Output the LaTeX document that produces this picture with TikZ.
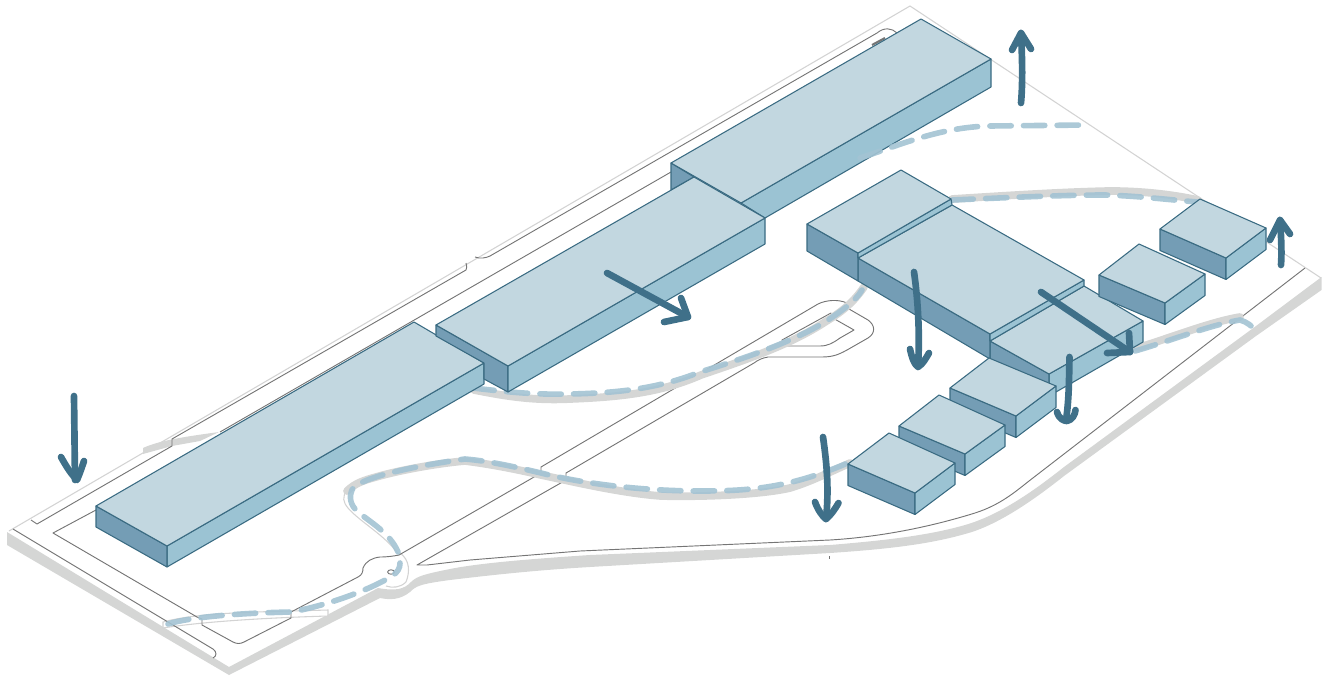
\documentclass[tikz,border=0pt]{standalone}
\definecolor{topc}{HTML}{C2D7E0}
\definecolor{rightc}{HTML}{9BC3D3}
\definecolor{leftc}{HTML}{749DB5}
\definecolor{edgec}{HTML}{3A6B82}
\definecolor{bandc}{HTML}{D5D6D5}
\definecolor{roadc}{HTML}{757575}
\definecolor{thinc}{HTML}{D3D3D3}
\definecolor{dashc}{HTML}{A3C3D3}
\definecolor{arrc}{HTML}{3F7089}
\tikzset{
 topf/.style={fill=topc,draw=edgec,line width=0.8pt,line join=round},
 rightf/.style={fill=rightc,draw=edgec,line width=0.8pt,line join=round},
 leftf/.style={fill=leftc,draw=edgec,line width=0.8pt,line join=round},
 road/.style={draw=roadc,line width=0.7pt,line join=round},
 thinl/.style={draw=thinc,line width=0.8pt},
 band/.style={draw=bandc,line width=5.8pt,line cap=round,line join=round},
 trail/.style={draw=dashc,line width=4.2pt,line cap=round,opacity=0.9,dash pattern=on 16pt off 9.2pt},
 arrowstroke/.style={draw=arrc,line width=5pt,line cap=round,line join=round},
}
\begin{document}
\begin{tikzpicture}[x=0.75pt,y=-0.75pt]
\useasboundingbox (0,0) rectangle (1337,681);
% site base
\fill[bandc] (7,532) -- (7,545) -- (229,675) -- (380,598) .. controls (390,600) and (400,600) .. (410,592) .. controls (416,586) and (420,584) .. (450,580) .. controls (500,574) and (540,570) .. (590,567) -- (830,553) .. controls (890,549) and (930,544) .. (965,534) .. controls (1000,525) and (1040,495) .. (1064,476) -- (1256,336) -- (1321.5,290) -- (1321.5,277) -- (1256,326) -- (1064,467) .. controls (1035,490) and (1000,515) .. (965,525) .. controls (930,535) and (890,540) .. (830,545) -- (590,555) .. controls (530,559) and (480,563) .. (450,569) .. controls (425,574) and (418,576) .. (412,581) .. controls (404,590) and (395,591) .. (378,588) -- (229,667) -- cycle;
\draw[thinl] (9,531) -- (910,6) -- (1321,278);
% gray band near top left
\fill[bandc] (143,448) .. controls (160,440) and (190,436) .. (219,432) -- (200,441) -- (172,446) -- (143,454) -- cycle;
% thin path outlines
\draw[thinl,fill=white] (163,628) .. controls (200,622) and (260,618) .. (328,616) -- (328,610) .. controls (260,612) and (200,612) .. (163,622) -- cycle;
\draw[thinl] (347,490) .. controls (342,497) and (343,502) .. (348,508) .. controls (360,522) and (385,535) .. (399,555);
% roundabout bump
\draw[thinl,fill=white] (400,553) .. controls (410,560) and (410,572) .. (406,582) .. controls (400,588) and (392,588) .. (386,586);
% road lines
\draw[road] (31,520) -- (37,524) -- (172,446) -- (172,439) -- (466,270) .. controls (467,268) and (467,266) .. (466,263);
\draw[road] (475,257) .. controls (480,259) and (486,258) .. (490,256) -- (877,33) .. controls (884,27) and (892,28) .. (897,33);
\draw[draw=roadc,line width=1.6pt] (872,45) -- (885,38);
\draw[road] (220,432) -- (671,172);
\draw[road] (13,529) -- (213,649) .. controls (217,652) and (217,656) .. (213,658);
\draw[road] (96,510) -- (53,533) -- (197,617);
\draw[road] (197,617) -- (202,619) -- (202,625) -- (233,642) .. controls (237,644) and (240,644) .. (244,642) -- (291,618) -- (291,612) -- (358,577) .. controls (362,575) and (363,572) .. (363,568) .. controls (366,561) and (372,558) .. (380,557) .. controls (388,557) and (394,556) .. (399,555);
\draw[road] (399,555) -- (541,473) -- (541,467) -- (818,304) .. controls (826,300) and (838,299) .. (847,303) -- (849,309) -- (868,320) .. controls (875,325) and (876,333) .. (868,338) -- (847,350) .. controls (838,355) and (832,357) .. (822,357) -- (768,357) .. controls (762,358) and (758,360) .. (754,363) -- (566,473) -- (566,480) -- (417,565) -- (427,565) -- (470,560) -- (580,551) -- (830,540) .. controls (880,537) and (930,527) .. (975,513) .. controls (1000,505) and (1015,492) .. (1029,481) -- (1305,268);
\draw[road] (782,340) -- (831,313) -- (831,317) -- (854,330) -- (840,338) .. controls (833,343) and (828,346) .. (820,346) -- (782,346) -- cycle;
\draw[road] (391,572) ellipse (3.4 and 2.2);
\draw[road] (829,556) -- (829,559);
% gray bands under trails
\draw[band] (347,491) .. controls (355,483) and (365,480) .. (376,477) .. controls (400,470) and (440,463) .. (465,461) .. controls (490,464) and (520,470) .. (541,475) .. controls (570,481) and (620,493) .. (661,496) .. controls (700,497) and (760,495) .. (790,488) .. controls (810,482) and (830,472) .. (850,463);
\draw[band] (474,390) .. controls (500,395) and (530,401) .. (570,399) .. controls (620,397) and (660,393) .. (701,375) .. controls (745,360) and (790,345) .. (825,322) .. controls (845,310) and (855,300) .. (864,287);
\draw[band] (952,199) .. controls (1000,196) and (1060,192) .. (1110,191) .. controls (1140,191) and (1170,194) .. (1198,200);
\draw[band] (1137,348) .. controls (1170,338) and (1210,322) .. (1240,317);
% trails
\draw[trail] (168,624) .. controls (190,617) and (240,613) .. (291,612) .. controls (325,606) and (370,590) .. (392,576) .. controls (398,572) and (400,568) .. (400,563);
\draw[trail,dash phase=4pt] (398,552) .. controls (390,533) and (370,522) .. (358,512) .. controls (350,505) and (349,497) .. (352,490) .. controls (356,480) and (400,468) .. (465,459) .. controls (490,461) and (520,468) .. (541,473) .. controls (580,483) and (640,491) .. (700,491) .. controls (750,491) and (790,488) .. (850,462);
\draw[trail] (473,388) .. controls (500,391) and (530,395) .. (570,394) .. controls (620,393) and (660,388) .. (700,372) .. controls (745,358) and (790,343) .. (825,322) .. controls (840,312) and (855,302) .. (862,290);
\draw[trail] (952,200) .. controls (1000,198) and (1060,195) .. (1105,195) .. controls (1140,196) and (1170,200) .. (1198,202);
\draw[trail] (1135,351) .. controls (1170,341) and (1210,325) .. (1240,320) .. controls (1247,322) and (1252,326) .. (1257,332);
% building 3 (top)
\path[leftf] (671,163) -- (694,177) -- (671,190) -- cycle;
\path[rightf] (741,203) -- (991,59) -- (991,87) -- (765,218) -- cycle;
\path[topf] (671,163) -- (921,19) -- (991,59) -- (741,203) -- cycle;
\draw[trail] (860,158) .. controls (900,145) and (940,127) .. (990,126) -- (1088,125);
% building 1
\path[rightf] (167,546) -- (484,363) -- (484,384) -- (167,567) -- cycle;
\path[leftf] (96,506) -- (167,546) -- (167,567) -- (96,527) -- cycle;
\path[topf] (96,506) -- (414,322) -- (484,363) -- (167,546) -- cycle;
% building 2
\path[leftf] (436,325) -- (508,366) -- (508,392) -- (484,379) -- (484,363) -- (436,336) -- cycle;
\path[rightf] (508,366) -- (765,218) -- (765,244) -- (508,392) -- cycle;
\path[topf] (436,325) -- (694,177) -- (765,218) -- (508,366) -- cycle;
% cluster: block C
\path[rightf] (1049,374) -- (1143,321) -- (1143,342) -- (1049,396) -- cycle;
\path[leftf] (990,341) -- (1049,374) -- (1049,396) -- (990,359) -- cycle;
\path[topf] (990,341) -- (1084,286) -- (1143,321) -- (1049,374) -- cycle;
% block B
\path[leftf] (858,258) -- (990,334) -- (990,359) -- (858,281) -- cycle;
\path[rightf] (990,334) -- (1084,280) -- (1084,286) -- (990,341) -- cycle;
\path[topf] (858,258) -- (952,205) -- (1084,280) -- (990,334) -- cycle;
% block A
\path[leftf] (807,224) -- (858,253) -- (858,281) -- (807,251) -- cycle;
\path[rightf] (858,253) -- (951,199) -- (952,205) -- (858,258) -- cycle;
\path[topf] (807,224) -- (901,170) -- (951,199) -- (858,253) -- cycle;
% small blocks
\foreach \ax/\ay/\bx/\by/\cx/\cy/\dx/\dy in {
 1160/229/1200/199/1266/228/1226/258,
 1099/275/1139/244/1205/274/1165/303,
 950/388/989/358/1056/386/1016/416,
 899/426/939/395/1005/425/965/454,
 848/464/889/433/955/463/915/493}{
 \path[leftf] (\ax,\ay) -- (\dx,\dy) -- (\dx,\dy+21.5) -- (\ax,\ay+21.5) -- cycle;
 \path[rightf] (\dx,\dy) -- (\cx,\cy) -- (\cx,\cy+21.5) -- (\dx,\dy+21.5) -- cycle;
 \path[topf] (\ax,\ay) -- (\bx,\by) -- (\cx,\cy) -- (\dx,\dy) -- cycle;
}
% arrows
\draw[arrowstroke] (74,396) -- (75,480);
\draw[arrowstroke] (61,457) .. controls (66,466) and (71,474) .. (77,480) .. controls (80,473) and (82,467) .. (84,461);
\draw[arrowstroke] (607,273) -- (688,317);
\draw[arrowstroke] (681,298) -- (688,317) -- (664,322);
\draw[arrowstroke] (914,272) .. controls (918,300) and (920,335) .. (918,366);
\draw[arrowstroke] (910,349) .. controls (912,358) and (914,364) .. (918,367) .. controls (923,364) and (926,358) .. (929,353);
\draw[arrowstroke] (1041,292) -- (1130,352);
\draw[arrowstroke] (1129,333) -- (1130,352) -- (1107,353);
\draw[arrowstroke] (1069.5,357) .. controls (1069,380) and (1069,400) .. (1066,420);
\draw[arrowstroke] (1057,412) .. controls (1059,419) and (1064,421) .. (1067,421) .. controls (1072,420) and (1075,415) .. (1075.5,410);
\draw[arrowstroke] (823,437) .. controls (827,465) and (829,490) .. (826,519);
\draw[arrowstroke] (815,502) .. controls (818,510) and (822,516) .. (826,519) .. controls (831,515) and (835,509) .. (838.5,503);
\draw[arrowstroke] (1281,265) .. controls (1282,250) and (1281,235) .. (1280,220);
\draw[arrowstroke] (1270,240) -- (1280,220) -- (1290,234);
\draw[arrowstroke] (1021,103) .. controls (1023,80) and (1022,55) .. (1021,33);
\draw[arrowstroke] (1012,50) -- (1021,33) -- (1031,49);
\end{tikzpicture}
\end{document}
